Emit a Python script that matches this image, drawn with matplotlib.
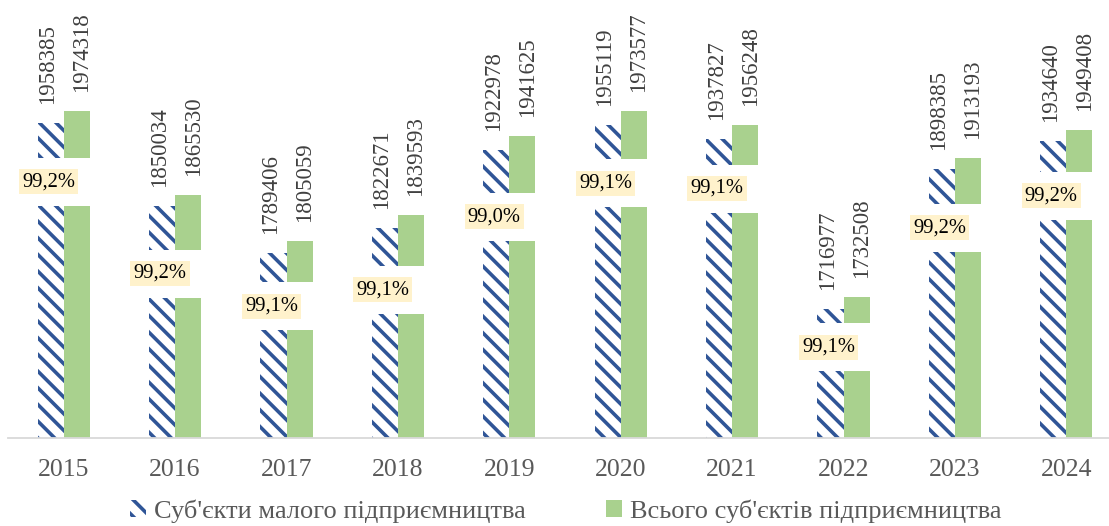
import numpy as np
import matplotlib.pyplot as plt
from matplotlib.patches import Rectangle, Patch

plt.rcParams['font.family'] = ['Liberation Serif', 'DejaVu Serif']
plt.rcParams['hatch.linewidth'] = 2.6

years = ['2015', '2016', '2017', '2018', '2019', '2020', '2021', '2022', '2023', '2024']
small = [1958385, 1850034, 1789406, 1822671, 1922978, 1955119, 1937827, 1716977, 1898385, 1934640]
total = [1974318, 1865530, 1805059, 1839593, 1941625, 1973577, 1956248, 1732508, 1913193, 1949408]
labels = ["Суб'єкти малого підприємництва", "Всього суб'єктів підприємництва"]

# how far (px) each share label was dragged below the green bar top
pct_drop = [71, 79, 65, 75, 81, 72, 64, 50, 70, 66]

blue = '#2F5597'
green = '#A9D18E'

W, H = 1109, 526
fig = plt.figure(figsize=(W/100, H/100), dpi=100)
ax_h = 438
ax = fig.add_axes([8/W, (H-ax_h)/H, 1114/W, ax_h/H])

ymin = 1550000
upp = 1296  # data units per pixel
ax.set_ylim(ymin, ymin + ax_h*upp)
ax.set_xlim(-0.5, 9.5)

x = np.arange(len(years))
bw = 0.234

ax.bar(x - bw/2, small, bw, color='white', edgecolor=blue, hatch='\\\\', linewidth=0, zorder=2)
ax.bar(x + bw/2, total, bw, color=green, linewidth=0, zorder=2)

for i in range(len(years)):
    ax.annotate(str(small[i]), (x[i] - bw/2, small[i]), xytext=(-3, 19), textcoords='offset pixels',
                rotation=90, ha='center', va='bottom', fontsize=16.5, color='#404040')
    ax.annotate(str(total[i]), (x[i] + bw/2, total[i]), xytext=(5, 19), textcoords='offset pixels',
                rotation=90, ha='center', va='bottom', fontsize=16.5, color='#404040')

    yc = total[i] - pct_drop[i]*upp
    ax.add_patch(Rectangle((x[i] - bw - 0.01, yc - 24*upp), 2*bw + 0.02, 48*upp,
                           facecolor='white', edgecolor='none', zorder=3))
    share = small[i] / total[i] * 100
    txt = f'{share:.1f}%'.replace('.', ',')
    ax.annotate(txt, (x[i] - bw/2, yc), xytext=(-2, 0), textcoords='offset pixels',
                ha='center', va='center', fontsize=14.8, color='black', zorder=5,
                bbox=dict(boxstyle='square,pad=0.15', facecolor='#FFF2CC', edgecolor='none'))

for s in ['top', 'right', 'left']:
    ax.spines[s].set_visible(False)
ax.spines['bottom'].set_color('#D9D9D9')
ax.spines['bottom'].set_linewidth(1.3)
ax.set_yticks([])
ax.set_xticks(x)
ax.set_xticklabels(years, fontsize=18.5, color='#595959')
ax.tick_params(axis='x', length=0, pad=15)

handles = [Patch(facecolor='white', edgecolor=blue, hatch='\\\\', linewidth=0),
           Patch(facecolor=green, linewidth=0)]
fig.legend(handles, labels, loc='center', bbox_to_anchor=(566/W, 1 - 511/H), ncol=2,
           frameon=False, fontsize=19, handlelength=0.6, handleheight=0.6,
           handletextpad=0.3, columnspacing=3.05, labelcolor='#595959')

fig.savefig('out.png', dpi=100)
